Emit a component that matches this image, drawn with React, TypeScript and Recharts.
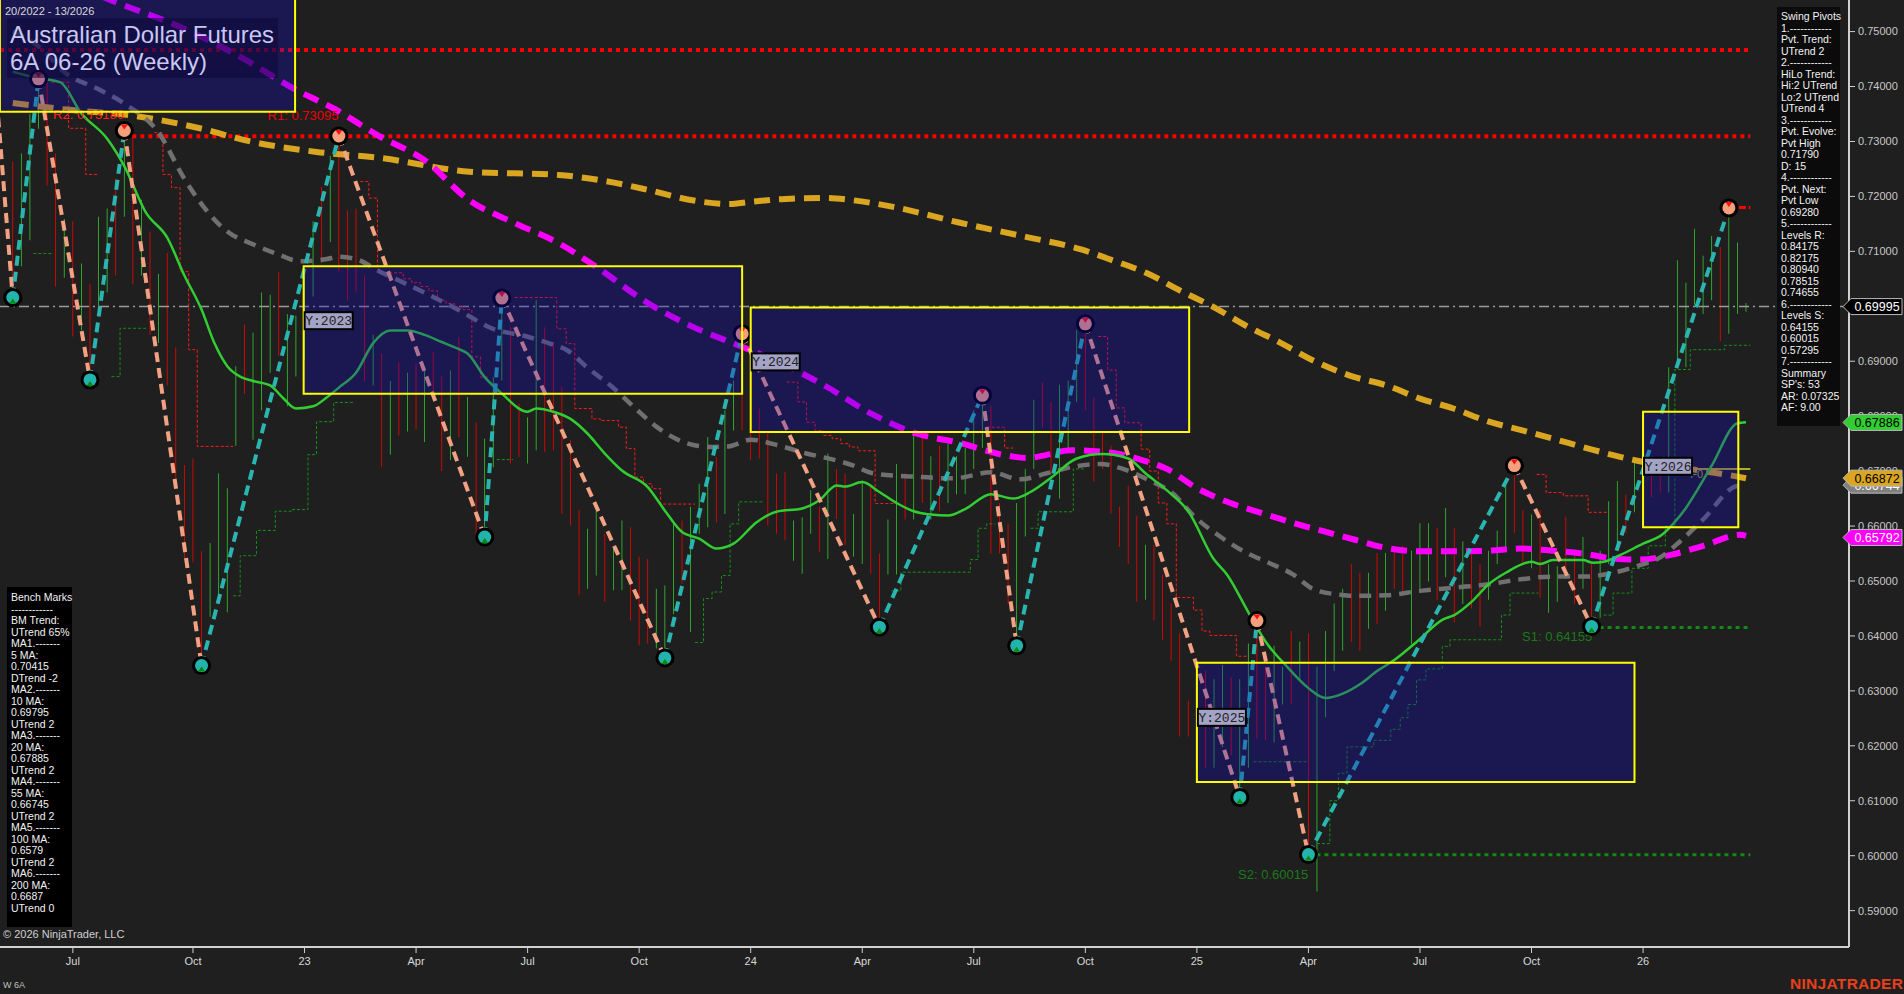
import React from "react";
import {
  ComposedChart,
  Bar,
  Cell,
  Line,
  Scatter,
  XAxis,
  YAxis,
  ReferenceArea,
  ReferenceLine,
  ReferenceDot,
} from "recharts";

// Weekly bars, index 0 = week 20/2022
const weekHigh = [
  0.7263, 0.7278, 0.735, 0.7414, 0.7412, 0.7278, 0.7159, 0.7155, 0.7078, 0.704,
  0.7163, 0.7178, 0.7232, 0.732, 0.7308, 0.7194, 0.7136, 0.7059, 0.7097, 0.6925,
  0.6711, 0.6723, 0.6554, 0.6569, 0.6696, 0.6669, 0.6891, 0.6967, 0.6952, 0.7025,
  0.7021, 0.7063, 0.6986, 0.6983, 0.7056, 0.7155, 0.7217, 0.7274, 0.731, 0.7175,
  0.7178, 0.7056, 0.6948, 0.6914, 0.6864, 0.6898, 0.6879, 0.6895, 0.6883, 0.6917,
  0.6872, 0.6883, 0.6944, 0.6835, 0.6789, 0.6759, 0.6871, 0.7015, 0.6962, 0.6823,
  0.6798, 0.7011, 0.6962, 0.6935, 0.6853, 0.6756, 0.6629, 0.6595, 0.6632, 0.6586,
  0.6562, 0.661, 0.6598, 0.6544, 0.654, 0.6486, 0.6492, 0.6604, 0.661, 0.6635,
  0.6677, 0.6762, 0.6726, 0.6811, 0.6865, 0.695, 0.68, 0.6814, 0.6774, 0.6695,
  0.6698, 0.661, 0.6616, 0.6665, 0.6635, 0.6732, 0.6704, 0.6695, 0.6622, 0.6683,
  0.6671, 0.655, 0.6612, 0.6713, 0.6696, 0.6773, 0.6761, 0.6727, 0.6746, 0.675,
  0.6727, 0.6742, 0.6811, 0.6838, 0.6819, 0.6642, 0.6604, 0.6642, 0.6704, 0.683,
  0.6861, 0.6826, 0.6857, 0.6865, 0.6957, 0.6968, 0.6834, 0.6773, 0.6746, 0.6635,
  0.6673, 0.6619, 0.6566, 0.6566, 0.6512, 0.6459, 0.6405, 0.6282, 0.6282, 0.6336,
  0.6321, 0.6347, 0.6325, 0.6321, 0.6386, 0.6428, 0.6344, 0.6382, 0.6344, 0.6409,
  0.639, 0.6405, 0.6344, 0.6409, 0.6459, 0.6486, 0.6531, 0.6515, 0.6515, 0.6551,
  0.6551, 0.6555, 0.6564, 0.6555, 0.6605, 0.6605, 0.6596, 0.6633, 0.6596, 0.6572,
  0.6555, 0.6531, 0.6555, 0.6592, 0.6677, 0.671, 0.6629, 0.6621, 0.6629, 0.6531,
  0.6527, 0.6617, 0.6555, 0.658, 0.6531, 0.6555, 0.6645, 0.6682, 0.6657, 0.6718,
  0.6807, 0.6702, 0.6694, 0.6889, 0.7084, 0.7043, 0.7141, 0.7092, 0.7128, 0.7108,
  0.718, 0.7116, 0.7006,
];

const weekLow = [
  0.7016, 0.7073, 0.712, 0.7323, 0.722, 0.7036, 0.7052, 0.6945, 0.6956, 0.6866,
  0.6987, 0.7025, 0.7056, 0.7163, 0.704, 0.7056, 0.6948, 0.6933, 0.6856, 0.6688,
  0.6542, 0.6534, 0.6346, 0.6435, 0.6458, 0.6443, 0.6746, 0.6841, 0.6757, 0.6811,
  0.6879, 0.691, 0.6818, 0.6872, 0.6902, 0.7018, 0.7079, 0.7117, 0.7063, 0.701,
  0.7025, 0.6864, 0.6856, 0.6707, 0.673, 0.6765, 0.6772, 0.6776, 0.6753, 0.6833,
  0.67, 0.672, 0.6762, 0.6726, 0.658, 0.6581, 0.6707, 0.6865, 0.6714, 0.6726,
  0.6714, 0.6738, 0.6735, 0.6738, 0.6622, 0.6601, 0.6474, 0.6486, 0.651, 0.6462,
  0.6483, 0.6483, 0.6428, 0.6383, 0.6386, 0.6377, 0.636, 0.644, 0.6495, 0.6407,
  0.6586, 0.6598, 0.6607, 0.6622, 0.6774, 0.6775, 0.672, 0.6723, 0.6601, 0.6586,
  0.6574, 0.6537, 0.6513, 0.6586, 0.6553, 0.654, 0.6613, 0.6565, 0.6544, 0.6531,
  0.6513, 0.6416, 0.6512, 0.6512, 0.6612, 0.6612, 0.6642, 0.6612, 0.6627, 0.6642,
  0.6658, 0.6658, 0.6704, 0.6742, 0.655, 0.655, 0.6459, 0.6382, 0.6581, 0.6704,
  0.678, 0.6696, 0.665, 0.6734, 0.6826, 0.6811, 0.6681, 0.6704, 0.6623, 0.6562,
  0.6531, 0.6462, 0.6466, 0.6428, 0.6393, 0.6355, 0.6217, 0.6217, 0.616, 0.616,
  0.616, 0.6198, 0.6183, 0.6106, 0.616, 0.6213, 0.621, 0.6206, 0.6275, 0.6275,
  0.6321, 0.6003, 0.5935, 0.6252, 0.6336, 0.6373, 0.6389, 0.6373, 0.6413, 0.6422,
  0.6446, 0.6486, 0.6482, 0.6385, 0.6486, 0.6499, 0.6466, 0.6507, 0.6425, 0.6458,
  0.645, 0.6417, 0.6466, 0.6531, 0.6555, 0.6588, 0.6531, 0.6523, 0.647, 0.6442,
  0.6462, 0.6515, 0.6458, 0.6486, 0.6417, 0.6433, 0.6531, 0.6555, 0.6588, 0.6625,
  0.6686, 0.6653, 0.6661, 0.6661, 0.6889, 0.6889, 0.7003, 0.6986, 0.7011, 0.6937,
  0.695, 0.6986, 0.699,
];

// u = week closed up, d = week closed down
const weekDir = (
  "duuuddudud uududududd ddduuuuduu uduuuududd ddudududud " +
  "dududuuudd uuddddduud uuddduuudu uuduuddddd duuududduu " +
  "dduudududu uuuuddduuu dduuuddddd dduddddddd uuduudduud " +
  "uduuuuddud udduuududu dduuuddudu udduduuudu udduuuuuud uuu"
).replace(/\s/g, "");

// swing pivots (week index, price); first one sits just off the left edge
const pivotWeek = [-2, 0, 3, 9, 13, 22, 38, 55, 57, 76, 85, 101, 113, 117, 125, 143, 145, 151, 175, 184, 200];
const pivotPrice = [
  0.7402, 0.7016, 0.7414, 0.6866, 0.732, 0.6346, 0.731, 0.658, 0.7015, 0.636, 0.695,
  0.6416, 0.6838, 0.6382, 0.6968, 0.6106, 0.6428, 0.6002, 0.671, 0.6417, 0.7179,
];

// moving averages: [week, price]
const ma20: number[][] = [
  [0, 0.7427], [3, 0.7415], [5.5, 0.7408], [8, 0.7351], [11, 0.7305], [13, 0.7255], [15.5, 0.7171],
  [18, 0.7125], [20, 0.7056], [22, 0.6994], [23.5, 0.6933], [25, 0.6891], [26.5, 0.6872], [28, 0.6864],
  [30, 0.6856], [31.5, 0.6833], [33, 0.6814], [35, 0.6818], [36.5, 0.6833], [38, 0.6852], [40, 0.6879],
  [42, 0.6933], [44, 0.6956], [46, 0.6956], [48, 0.6948], [50, 0.6935], [52, 0.6922], [53, 0.6914],
  [55, 0.6871], [57, 0.6841], [60, 0.6808], [61, 0.6814], [63, 0.6808], [65, 0.6795], [67, 0.6768],
  [69, 0.6732], [71, 0.6701], [74, 0.6671], [76, 0.6628], [78, 0.6589], [80, 0.6577], [82, 0.6559],
  [84, 0.6568], [86.7, 0.6607], [89, 0.6626], [92, 0.6632], [94, 0.6647], [96, 0.6674], [97, 0.6672],
  [99, 0.668], [101, 0.6662], [103, 0.6642], [105, 0.6627], [107, 0.6621], [109, 0.6619], [111, 0.6631],
  [114, 0.6658], [116.6, 0.665], [118.6, 0.6662], [121, 0.6688], [124, 0.6723], [127, 0.6731],
  [130, 0.6723], [132, 0.6696], [134.5, 0.6665], [137, 0.6627], [140, 0.6539], [141.5, 0.6512],
  [144, 0.6443], [146, 0.639], [148.5, 0.6344], [151, 0.6305], [153, 0.6287], [155, 0.6295],
  [157, 0.6312], [159, 0.6336], [161, 0.6356], [163.6, 0.6389], [166.7, 0.643], [168, 0.6438],
  [170, 0.6462], [172, 0.6494], [174, 0.6515], [177, 0.6535], [178, 0.6531], [179.5, 0.6538],
  [183, 0.6538], [184.2, 0.6533], [185.4, 0.6535], [187.3, 0.6547], [190, 0.6568], [192.2, 0.6584],
  [193.5, 0.6604], [195, 0.6633], [196.3, 0.6665], [198, 0.671], [201, 0.6787], [202, 0.6789],
];

const ma55: number[][] = [
  [0, 0.75], [3, 0.7473], [6.3, 0.7423], [10, 0.7395], [13.3, 0.7366], [17, 0.7316], [20, 0.7232],
  [22, 0.7186], [25, 0.7136], [28, 0.7113], [31, 0.7094], [33.5, 0.7082], [36.6, 0.7086], [38, 0.709],
  [40, 0.7086], [42.8, 0.7063], [45, 0.7047], [49, 0.7017], [52, 0.6993], [55.8, 0.696], [59.9, 0.6945],
  [62.6, 0.6932], [64.6, 0.692], [67, 0.6888], [69.8, 0.6854], [72.5, 0.6815], [75, 0.6781],
  [79.2, 0.6748], [81.6, 0.6744], [83.4, 0.6745], [86, 0.6757], [89.6, 0.6745], [92.5, 0.6732],
  [94.8, 0.6724], [98, 0.671], [100, 0.6697], [103.4, 0.6691], [105.2, 0.669], [108.8, 0.6687],
  [110.4, 0.6688], [114, 0.6698], [117.4, 0.6685], [120.5, 0.6696], [123.6, 0.6708],
  [126.7, 0.6713], [129.4, 0.6704], [132.2, 0.6685], [135.3, 0.6658], [137.6, 0.6619], [140.7, 0.6581],
  [143.8, 0.6551], [146.1, 0.6535], [149.2, 0.6512], [151.6, 0.6485], [154.7, 0.6475], [156.2, 0.6473],
  [160, 0.6474], [164, 0.6482], [168, 0.6488], [172, 0.6494], [175.7, 0.6503], [179.5, 0.6508],
  [183.4, 0.6508], [186.5, 0.6515], [189.3, 0.6527], [192, 0.6543], [194.3, 0.6572], [197, 0.6612],
  [201, 0.6673], [202, 0.6674],
];

const ma100: number[][] = [
  [5, 0.76], [11.3, 0.7558], [20.3, 0.7503], [26.5, 0.7454], [33, 0.7394], [37.4, 0.736],
  [42.8, 0.7309], [48, 0.7266], [53.2, 0.7193], [58.4, 0.7152], [63.6, 0.7115], [67.7, 0.7075],
  [74, 0.7006], [79.2, 0.6963], [84.4, 0.693], [89.6, 0.6896], [94.8, 0.6854], [100, 0.6805],
  [105.2, 0.6769], [110.4, 0.6751], [115.6, 0.6729], [118.2, 0.6724], [123.4, 0.6738], [128.3, 0.6733],
  [131.4, 0.6721], [134.5, 0.6704], [138, 0.6669], [141.9, 0.6642], [145.7, 0.6623], [149.6, 0.6604],
  [152.4, 0.6592], [156.2, 0.6576], [160.1, 0.656], [164, 0.6554], [168, 0.6554], [171.8, 0.6555],
  [175.7, 0.6559], [179.5, 0.6555], [183.4, 0.6549], [186.5, 0.6541], [189.6, 0.6539], [193.1, 0.6547],
  [197, 0.6564], [201.3, 0.6584], [202, 0.6582],
];

const ma200: number[][] = [
  [0, 0.737], [6.3, 0.7358], [14, 0.7347], [21.8, 0.7324], [27.7, 0.73], [35.4, 0.7281], [42.8, 0.727],
  [53.2, 0.7245], [63.6, 0.7239], [69, 0.7228], [74, 0.7212], [79.2, 0.7193], [83.4, 0.7186],
  [86, 0.719], [89.6, 0.7195], [94.8, 0.7197], [97.9, 0.7193], [102.6, 0.7181], [110.4, 0.7152],
  [118.2, 0.7126], [124.4, 0.7104], [128.3, 0.7083], [132.2, 0.706], [136, 0.7029], [139.9, 0.6999],
  [143.8, 0.6964], [147.7, 0.6934], [151.6, 0.6901], [156.2, 0.6872], [160.1, 0.6856], [164, 0.6832],
  [167.9, 0.6814], [171.8, 0.6791], [175.7, 0.6775], [179.5, 0.6759], [183.4, 0.6742], [187.3, 0.6726],
  [189.6, 0.6718], [195, 0.6705], [201, 0.669], [202, 0.6687],
];

// trailing step stops
const redSteps: number[][][] = [
  [[4.5, 0.7408], [6.5, 0.7324], [8.5, 0.724], [10, 0.724]],
  [[16.5, 0.7316], [17.5, 0.724], [18.5, 0.7216], [19.5, 0.7063], [20.5, 0.6921], [21.5, 0.6745], [25.7, 0.6745]],
  [[40.5, 0.7227], [41.5, 0.7197], [42.5, 0.7061], [45.5, 0.705], [46.5, 0.7043], [47.5, 0.7036], [48.5, 0.7028],
    [49.5, 0.7011], [50.5, 0.7005], [51.5, 0.6999], [52.5, 0.6994], [53.5, 0.6908], [54.5, 0.6871], [55.5, 0.6871]],
  [[58.5, 0.7016], [63.4, 0.6959], [64.5, 0.6932], [65.5, 0.6814], [67.5, 0.6795], [68.5, 0.6792], [70.6, 0.678],
    [71.5, 0.6741], [72.5, 0.6689], [73.5, 0.6677], [74.5, 0.6668], [75.5, 0.664], [79.5, 0.664]],
  [[90.2, 0.6862], [91.5, 0.6826], [92.5, 0.6789], [93.5, 0.6774], [94.5, 0.6765], [95.5, 0.6759], [96.5, 0.675],
    [97.5, 0.6744], [98.5, 0.6737], [100.5, 0.6641], [103.4, 0.6641]],
  [[113.5, 0.678], [115.6, 0.6742], [116.6, 0.6742]],
  [[126.5, 0.6945], [127.6, 0.6884], [128.6, 0.6815], [129.6, 0.6788], [131.5, 0.674], [132.5, 0.67], [133.5, 0.6642],
    [134.5, 0.6604], [135.6, 0.647], [137.6, 0.6447], [138.6, 0.6409], [139.5, 0.6401], [142.6, 0.6363], [143.8, 0.6363]],
  [[177.6, 0.6694], [178.7, 0.6661], [180.7, 0.6655], [183.6, 0.6625], [185.8, 0.6625]],
];

const greenSteps: number[][][] = [
  [[2.4, 0.7096], [4.7, 0.7096]],
  [[11.5, 0.6872], [12.5, 0.696], [15.6, 0.696]],
  [[25.7, 0.6473], [26.5, 0.6546], [28.4, 0.6592], [30.6, 0.6627], [32.5, 0.663], [34.4, 0.673], [35.4, 0.679],
    [37.4, 0.6825], [39.7, 0.6825]],
  [[56.4, 0.6721], [58.3, 0.6721]],
  [[79.5, 0.6388], [80.5, 0.6468], [81.5, 0.648], [82.6, 0.651], [83.6, 0.6604], [84.6, 0.6644], [87.5, 0.6644]],
  [[102.4, 0.6482], [103.5, 0.6516], [111.6, 0.6539], [112.5, 0.6596], [113.5, 0.6604], [114.5, 0.6604]],
  [[118.6, 0.6596], [119.5, 0.6626], [123.6, 0.6704], [124.8, 0.6704]],
  [[144.6, 0.6171], [150.8, 0.6171]],
  [[152, 0.6022], [153.5, 0.61], [154.5, 0.615], [155.5, 0.6198], [158.6, 0.621], [160.6, 0.623], [161.7, 0.6251],
    [162.6, 0.6275], [163.6, 0.632], [164.7, 0.634], [166.6, 0.6381], [167.5, 0.6393], [173.5, 0.6438],
    [174.5, 0.6478], [177.8, 0.6478]],
  [[185.4, 0.6438], [186.5, 0.6478], [188.7, 0.6523], [190.6, 0.6564], [192.6, 0.66], [193.7, 0.6885],
    [195.5, 0.6921], [199.5, 0.6929], [202.5, 0.6929]],
];

// range boxes: [label, fromWeek, toWeek, low, high]
const yearBoxes: [string, number, number, number, number][] = [
  ["", -1.5, 32.9, 0.7354, 0.7575],
  ["Y:2023", 33.9, 85.0, 0.6841, 0.7073],
  ["Y:2024", 86.0, 137.1, 0.6771, 0.6998],
  ["Y:2025", 138.0, 189.0, 0.6134, 0.6351],
  ["Y:2026", 190.0, 201.1, 0.6598, 0.6808],
];

// right-axis value tags: [price, fill, text colour]
const priceTags: [number, string, string][] = [
  [0.69995, "#000000", "#ffffff"],
  [0.67886, "#32cd32", "#000000"],
  [0.66744, "#808080", "#ffffff"],
  [0.66872, "#daa520", "#000000"],
  [0.65792, "#ff00ff", "#ffffff"],
];

const yTicks = [0.59, 0.6, 0.61, 0.62, 0.63, 0.64, 0.65, 0.66, 0.67, 0.68, 0.69, 0.7, 0.71, 0.72, 0.73, 0.74, 0.75];
const xTickWeek = [7, 21, 34, 47, 60, 73, 86, 99, 112, 125, 138, 151, 164, 177, 190];
const xTickLabel = ["Jul", "Oct", "23", "Apr", "Jul", "Oct", "24", "Apr", "Jul", "Oct", "25", "Apr", "Jul", "Oct", "26"];

const swingLines = [
  "Swing Pivots", "1.------------", "Pvt. Trend:", "UTrend 2", "2.------------", "HiLo Trend:",
  "Hi:2 UTrend", "Lo:2 UTrend", "UTrend 4", "3.------------", "Pvt. Evolve:", "Pvt High", "0.71790",
  "D: 15", "4.------------", "Pvt. Next:", "Pvt Low", "0.69280", "5.------------", "Levels R:",
  "0.84175", "0.82175", "0.80940", "0.78515", "0.74655", "6.------------", "Levels S:", "0.64155",
  "0.60015", "0.57295", "7.------------", "Summary", "SP's: 53", "AR: 0.07325", "AF: 9.00",
];

const benchLines = [
  "Bench Marks", "------------", "BM Trend:", "UTrend 65%", "MA1.-------", "5 MA:", "0.70415",
  "DTrend -2", "MA2.-------", "10 MA:", "0.69795", "UTrend 2", "MA3.-------", "20 MA:", "0.67885",
  "UTrend 2", "MA4.-------", "55 MA:", "0.66745", "UTrend 2", "MA5.-------", "100 MA:", "0.6579",
  "UTrend 2", "MA6.-------", "200 MA:", "0.6687", "UTrend 0",
];

const FONT = "Arial, 'Liberation Sans', sans-serif";
const UP_LEG = "#2ab5b0";
const DOWN_LEG = "#f2a283";
const X_DOMAIN = [-1.49, 214];
const Y_DOMAIN = [0.58338, 0.75575];

const toPoints = (pairs: number[][]) => pairs.map(([i, v]) => ({ i, v }));

function PivotMark(props: any) {
  const { cx, cy, payload } = props;
  if (cx == null || cy == null) return null;
  const high = payload.high;
  return (
    <g>
      <circle cx={cx} cy={cy} r={9.5} fill="#000" />
      <circle cx={cx} cy={cy} r={6.5} fill={high ? "#f4a07c" : "#22b3ad"} />
      {high ? (
        <polygon points={`${cx - 3.5},${cy - 6} ${cx + 3.5},${cy - 6} ${cx},${cy - 1}`} fill="#ff1010" />
      ) : (
        <polygon points={`${cx - 3.5},${cy + 6} ${cx + 3.5},${cy + 6} ${cx},${cy + 1}`} fill="#0a8a0a" />
      )}
    </g>
  );
}

function YearTag({ viewBox, text }: any) {
  if (!viewBox || !text) return null;
  const x = viewBox.x + 1;
  const y = viewBox.y + 46;
  return (
    <g>
      <rect x={x} y={y} width={48} height={17} fill="#a3a3c6" stroke="#000" strokeWidth={2} />
      <text x={x + 24} y={y + 13} textAnchor="middle" fontSize={13} fontFamily="'Liberation Mono', monospace" fill="#222">
        {text}
      </text>
    </g>
  );
}

function PriceTag({ viewBox, value, fill, color }: any) {
  if (!viewBox) return null;
  const x = viewBox.x + viewBox.width - 6;
  const y = viewBox.y;
  return (
    <g>
      <polygon
        points={`${x},${y} ${x + 8},${y - 8} ${x + 59},${y - 8} ${x + 59},${y + 8} ${x + 8},${y + 8}`}
        fill={fill}
        stroke="#b8b8b8"
        strokeWidth={1}
      />
      <text x={x + 34} y={y + 4.5} textAnchor="middle" fontSize={12.5} fontFamily={FONT} fill={color}>
        {value.toFixed(5)}
      </text>
    </g>
  );
}

function DotText({ viewBox, text, color, dx = 0, dy = 0, size = 13 }: any) {
  if (!viewBox) return null;
  return (
    <text x={viewBox.x + dx} y={viewBox.y + dy} fontSize={size} fontFamily={FONT} fill={color}>
      {text}
    </text>
  );
}

export default function App() {
  const barData = weekHigh.map((h, i) => ({ i, range: [weekLow[i], h], up: weekDir[i] === "u" }));
  const pivots = pivotWeek.map((i, k) => ({
    i,
    v: pivotPrice[k],
    high: k === 0 ? true : pivotPrice[k] > pivotPrice[k - 1],
  }));
  const legs = pivots.slice(1).map((p, k) => [pivots[k], p]);

  return (
    <div
      style={{
        position: "absolute",
        left: 0,
        top: 0,
        width: 1904,
        height: 994,
        background: "#1f1f1f",
        overflow: "hidden",
        fontFamily: FONT,
      }}
    >
      <ComposedChart width={1904} height={994} data={barData} margin={{ top: 0, right: 0, bottom: 0, left: 0 }}>
        <XAxis
          type="number"
          dataKey="i"
          domain={X_DOMAIN}
          allowDataOverflow
          ticks={xTickWeek}
          tickFormatter={(v) => xTickLabel[xTickWeek.indexOf(v)] ?? ""}
          height={47}
          axisLine={{ stroke: "#d0d0d0", strokeWidth: 2 }}
          tickLine={{ stroke: "#d0d0d0" }}
          tickSize={6}
          tickMargin={4}
          tick={{ fill: "#d8d8d8", fontSize: 11, fontFamily: FONT }}
        />
        <YAxis
          orientation="right"
          type="number"
          domain={Y_DOMAIN}
          allowDataOverflow
          ticks={yTicks}
          tickFormatter={(v) => Number(v).toFixed(5)}
          width={55}
          axisLine={{ stroke: "#d0d0d0", strokeWidth: 2 }}
          tickLine={{ stroke: "#d0d0d0" }}
          tickSize={6}
          tickMargin={3}
          tick={{ fill: "#c8c8c8", fontSize: 11, fontFamily: FONT }}
        />

        {/* resistance / support levels */}
        <ReferenceLine segment={[{ x: -1.49, y: 0.74665 }, { x: 202.5, y: 0.74665 }]} stroke="#ff0000" strokeWidth={4} strokeDasharray="4 4" />
        <ReferenceLine segment={[{ x: 13, y: 0.73095 }, { x: 202.5, y: 0.73095 }]} stroke="#ff0000" strokeWidth={4} strokeDasharray="4 4" />
        <ReferenceLine segment={[{ x: 184, y: 0.64155 }, { x: 202.5, y: 0.64155 }]} stroke="#138a13" strokeWidth={3} strokeDasharray="4 4" />
        <ReferenceLine segment={[{ x: 151, y: 0.60015 }, { x: 202.5, y: 0.60015 }]} stroke="#138a13" strokeWidth={3} strokeDasharray="4 4" />
        <ReferenceLine segment={[{ x: 200, y: 0.718 }, { x: 202.5, y: 0.718 }]} stroke="#ff0000" strokeWidth={3} strokeDasharray="7 3" />
        <ReferenceLine segment={[{ x: 193, y: 0.6704 }, { x: 202.5, y: 0.6704 }]} stroke="#e6e020" strokeWidth={1.5} />
        <ReferenceLine y={0.69995} stroke="#9a9a9a" strokeWidth={1.5} strokeDasharray="10 4 2 4" />

        <ReferenceDot x={4.7} y={0.73095} r={0} fill="none" stroke="none"
          label={(p: any) => <DotText {...p} text="R2: 0.73180" color="#ff2020" dy={-17} />} />
        <ReferenceDot x={29.7} y={0.73095} r={0} fill="none" stroke="none"
          label={(p: any) => <DotText {...p} text="R1: 0.73095" color="#ee0000" dy={-16} />} />
        <ReferenceDot x={175.9} y={0.64155} r={0} fill="none" stroke="none"
          label={(p: any) => <DotText {...p} text="S1: 0.64155" color="#1a7a1a" dy={14} />} />
        <ReferenceDot x={142.8} y={0.60015} r={0} fill="none" stroke="none"
          label={(p: any) => <DotText {...p} text="S2: 0.60015" color="#1a7a1a" dy={24} />} />
        <ReferenceDot x={195.5} y={0.6704} r={0} fill="none" stroke="none"
          label={(p: any) => <DotText {...p} text="F0" color="#a8a040" dy={9} size={11} />} />

        {redSteps.map((s, k) => (
          <Line key={`rs-${k}`} data={toPoints(s)} dataKey="v" type="stepAfter" stroke="#ff1a1a" strokeWidth={1}
            strokeDasharray="3 2" dot={false} activeDot={false} isAnimationActive={false} />
        ))}
        {greenSteps.map((s, k) => (
          <Line key={`gs-${k}`} data={toPoints(s)} dataKey="v" type="stepAfter" stroke="#13901a" strokeWidth={1}
            strokeDasharray="3 2" dot={false} activeDot={false} isAnimationActive={false} />
        ))}

        <Bar dataKey="range" barSize={2} isAnimationActive={false}>
          {barData.map((d, k) => (
            <Cell key={`c-${k}`} fill={d.up ? "#32cd32" : "#ff0000"} />
          ))}
        </Bar>

        <Line data={toPoints(ma200)} dataKey="v" type="monotone" stroke="#daa520" strokeWidth={6}
          strokeDasharray="16 9" dot={false} activeDot={false} isAnimationActive={false} />
        <Line data={toPoints(ma100)} dataKey="v" type="monotone" stroke="#ff00ff" strokeWidth={6}
          strokeDasharray="16 9" dot={false} activeDot={false} isAnimationActive={false} />
        <Line data={toPoints(ma55)} dataKey="v" type="monotone" stroke="#707070" strokeWidth={4.5}
          strokeDasharray="12 8" dot={false} activeDot={false} isAnimationActive={false} />
        <Line data={toPoints(ma20)} dataKey="v" type="monotone" stroke="#32cd32" strokeWidth={2.5}
          dot={false} activeDot={false} isAnimationActive={false} />

        {legs.map(([a, b], k) => (
          <Line key={`leg-${k}`} data={[a, b]} dataKey="v" type="linear" stroke={b.v > a.v ? UP_LEG : DOWN_LEG}
            strokeWidth={4} strokeDasharray="10 6" dot={false} activeDot={false} isAnimationActive={false} />
        ))}

        <Scatter data={pivots.filter((p) => p.i >= 0)} dataKey="v" shape={(p: any) => <PivotMark {...p} />}
          isAnimationActive={false} />

        {yearBoxes.map(([name, x1, x2, lo, hi], k) => (
          <ReferenceArea
            key={`box-${k}`}
            x1={x1}
            x2={x2}
            y1={lo}
            y2={hi}
            fill="#1508c4"
            fillOpacity={0.3}
            stroke="#ffff00"
            strokeWidth={2}
            ifOverflow="visible"
            zIndex={900}
            label={(p: any) => <YearTag {...p} text={name} />}
          />
        ))}
      </ComposedChart>

      {/* second layer with the same scales so the value tags sit above the axis labels */}
      <div style={{ position: "absolute", left: 0, top: 0, pointerEvents: "none" }}>
        <ComposedChart width={1904} height={994} data={barData} margin={{ top: 0, right: 0, bottom: 0, left: 0 }}>
          <XAxis type="number" dataKey="i" domain={X_DOMAIN} allowDataOverflow height={47}
            tick={false} axisLine={false} tickLine={false} />
          <YAxis orientation="right" type="number" domain={Y_DOMAIN} allowDataOverflow width={55}
            tick={false} axisLine={false} tickLine={false} />
          {priceTags.map(([v, fill, color], k) => (
            <ReferenceLine key={`tag-${k}`} y={v} stroke="none"
              label={(p: any) => <PriceTag {...p} value={v} fill={fill} color={color} />} />
          ))}
        </ComposedChart>
      </div>

      {/* title */}
      <div style={{ position: "absolute", left: 5, top: 5, fontSize: 11, color: "#d8d8d8" }}>20/2022 - 13/2026</div>
      <div
        style={{
          position: "absolute",
          left: 7,
          top: 18,
          width: 271,
          height: 60,
          background: "rgba(12,10,58,0.55)",
          color: "#c8c8f4",
          fontSize: 24,
          lineHeight: "27px",
          paddingLeft: 3,
          paddingTop: 3,
          boxSizing: "border-box",
        }}
      >
        <div>Australian Dollar Futures</div>
        <div>6A 06-26 (Weekly)</div>
      </div>

      {/* swing pivots panel */}
      <div
        style={{
          position: "absolute",
          left: 1777,
          top: 7,
          width: 63,
          height: 419,
          background: "#0b0b0b",
          color: "#f2f2f2",
          fontSize: 10.5,
          lineHeight: "11.5px",
          paddingLeft: 4,
          paddingTop: 4,
          boxSizing: "border-box",
          whiteSpace: "nowrap",
        }}
      >
        {swingLines.map((t, k) => (
          <div key={k}>{t}</div>
        ))}
      </div>

      {/* bench marks panel */}
      <div
        style={{
          position: "absolute",
          left: 7,
          top: 587,
          width: 65,
          height: 340,
          background: "#000",
          color: "#f2f2f2",
          fontSize: 10.5,
          lineHeight: "11.5px",
          paddingLeft: 4,
          paddingTop: 5,
          boxSizing: "border-box",
          whiteSpace: "nowrap",
        }}
      >
        {benchLines.map((t, k) => (
          <div key={k}>{t}</div>
        ))}
      </div>

      <div style={{ position: "absolute", left: 3, top: 928, fontSize: 11, color: "#d0d0d0" }}>© 2026 NinjaTrader, LLC</div>
      <div style={{ position: "absolute", left: 3, top: 980, fontSize: 9, color: "#c0c0c0" }}>W 6A</div>
      <div style={{ position: "absolute", left: 1790, top: 975, fontSize: 15.5, fontWeight: "bold", color: "#e8401c", letterSpacing: 0.3 }}>
        NINJATRADER
      </div>
    </div>
  );
}
